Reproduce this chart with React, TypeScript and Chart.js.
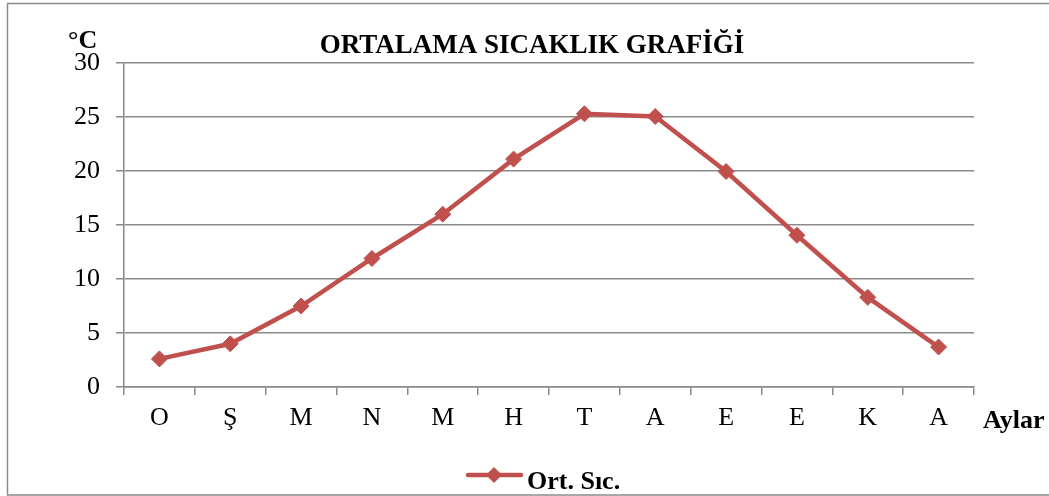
import React, { useEffect, useRef } from "react";
import { Chart, registerables } from "chart.js";

Chart.register(...registerables);

const months = ["O", "Ş", "M", "N", "M", "H", "T", "A", "E", "E", "K", "A"];
const avgTemp = [2.6, 4.0, 7.5, 11.9, 16.0, 21.1, 25.3, 25.05, 19.95, 14.05, 8.3, 3.7];
const seriesLabel = "Ort. Sıc.";
const chartTitle = "ORTALAMA SICAKLIK GRAFİĞİ";
const yUnit = "°C";
const xName = "Aylar";

const LINE_COLOR = "#C0504D";
const GRID_COLOR = "#8a8a8a";
const FONT = "'Liberation Serif', 'Times New Roman', serif";

const decorPlugin = {
  id: "decor",
  afterDraw(chart: any) {
    const ctx = chart.ctx;
    ctx.save();
    // border
    ctx.strokeStyle = "#8a8a8a";
    ctx.lineWidth = 1.5;
    ctx.strokeRect(7.5, 3.5, 1050, 491.5);
    ctx.fillStyle = "#000";
    // title
    ctx.font = `bold 27px ${FONT}`;
    ctx.textAlign = "center";
    ctx.textBaseline = "alphabetic";
    ctx.fillText(chartTitle, 532, 53);
    // unit
    ctx.font = `bold 26px ${FONT}`;
    ctx.textAlign = "left";
    ctx.fillText(yUnit, 68, 48);
    // x name
    ctx.fillText(xName, 983, 428);
    // legend
    ctx.strokeStyle = LINE_COLOR;
    ctx.lineWidth = 4.5;
    ctx.lineCap = "round";
    ctx.beginPath();
    ctx.moveTo(468, 475);
    ctx.lineTo(521, 475);
    ctx.stroke();
    ctx.fillStyle = LINE_COLOR;
    ctx.beginPath();
    const cx = 494, cy = 475, r = 8;
    ctx.moveTo(cx, cy - r);
    ctx.lineTo(cx + r, cy);
    ctx.lineTo(cx, cy + r);
    ctx.lineTo(cx - r, cy);
    ctx.closePath();
    ctx.fill();
    ctx.fillStyle = "#000";
    ctx.fillText(seriesLabel, 527, 489);
    ctx.restore();
  },
};

export default function App() {
  const ref = useRef<HTMLCanvasElement>(null);
  useEffect(() => {
    document.body.style.margin = "0";
    const chart = new Chart(ref.current!, {
      type: "line",
      data: {
        labels: months,
        datasets: [
          {
            label: seriesLabel,
            data: avgTemp,
            borderColor: LINE_COLOR,
            backgroundColor: LINE_COLOR,
            borderWidth: 4.5,
            pointStyle: "rectRot",
            pointRadius: 8,
            pointBackgroundColor: LINE_COLOR,
            pointBorderColor: LINE_COLOR,
            pointBorderWidth: 1,
            tension: 0,
          },
        ],
      },
      options: {
        animation: false,
        responsive: false,
        layout: { padding: { left: 0, right: 75, top: 63, bottom: 0 } },
        plugins: {
          legend: { display: false },
          title: { display: false },
          tooltip: { enabled: false },
        },
        scales: {
          x: {
            offset: true,
            grid: {
              offset: true,
              display: true,
              drawOnChartArea: false,
              drawTicks: true,
              tickLength: 8,
              color: GRID_COLOR,
              lineWidth: 1.5,
            },
            border: { display: true, color: GRID_COLOR, width: 1.5 },
            ticks: {
              color: "#000",
              font: { family: FONT, size: 26 },
              padding: 8,
              maxRotation: 0,
              autoSkip: false,
            },
            afterFit(scale: any) {
              scale.height = 109;
            },
          },
          y: {
            min: 0,
            max: 30,
            grid: {
              color: GRID_COLOR,
              lineWidth: 1.5,
              tickLength: 8,
            },
            border: { display: true, color: GRID_COLOR, width: 1.5 },
            ticks: {
              stepSize: 5,
              color: "#000",
              font: { family: FONT, size: 26 },
              padding: 16,
            },
            afterFit(scale: any) {
              scale.width = 124;
            },
          },
        },
      },
      plugins: [decorPlugin],
    });
    return () => chart.destroy();
  }, []);
  return (
    <div style={{ width: 1049, height: 496, position: "relative", background: "#fff" }}>
      <canvas ref={ref} width={1049} height={496} style={{ display: "block" }} />
    </div>
  );
}
